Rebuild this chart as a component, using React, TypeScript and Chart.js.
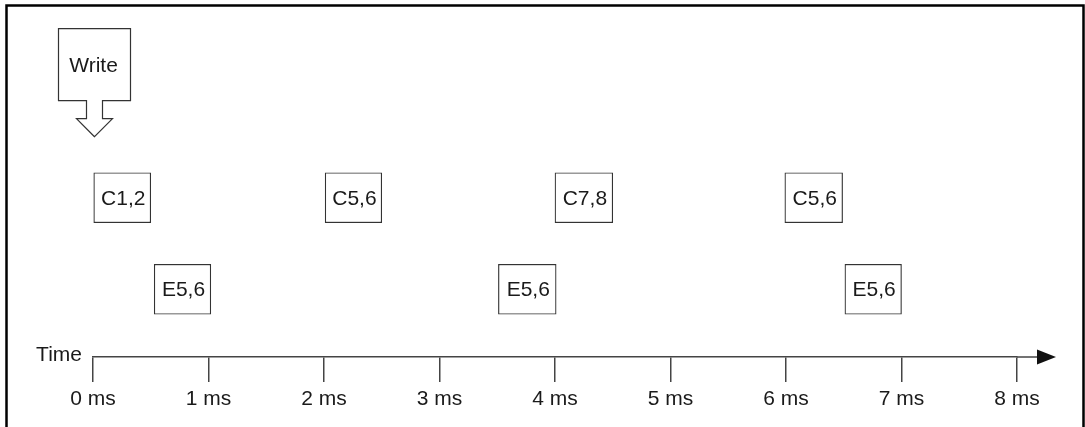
import { useEffect, useRef } from "react";
import { Chart, ChartConfiguration, Plugin } from "chart.js/auto";

// timeline blocks (ms)
const cLabels = ["C1,2", "C5,6", "C7,8", "C5,6"];
const cStart = [0, 2.01, 4, 5.99];
const cEnd = [0.5, 2.5, 4.5, 6.49];

const eLabels = ["E5,6", "E5,6", "E5,6"];
const eStart = [0.53, 3.51, 6.51];
const eEnd = [1.02, 4.01, 7.0];

const tickValues = [0, 1, 2, 3, 4, 5, 6, 7, 8];
const tickLabels = tickValues.map((v) => `${v} ms`);

const writeLabel = "Write";
const writeAt = 0;
const axisTitle = "Time";

const C_ROW = 1.74;
const E_ROW = 0.74;
const FONT = '"Liberation Sans", Arial, sans-serif';
const INK = "#1a1a1a";
const LINE = "#444";

const blockLabels = [...cLabels, ...eLabels];

const decorPlugin: Plugin = {
    id: "decor",
    afterDraw(chart) {
        const ctx = chart.ctx;
        const { left, right, bottom } = chart.chartArea;
        const xs = chart.scales.x;
        const ys = chart.scales.y;
        ctx.save();

        // outer frame (no bottom edge)
        ctx.strokeStyle = "#000";
        ctx.lineWidth = 2.5;
        ctx.beginPath();
        ctx.moveTo(6.5, chart.height + 2);
        ctx.lineTo(6.5, 5.5);
        ctx.lineTo(1083.5, 5.5);
        ctx.lineTo(1083.5, chart.height + 2);
        ctx.stroke();

        // block labels
        ctx.fillStyle = INK;
        ctx.font = `21px ${FONT}`;
        ctx.textAlign = "center";
        ctx.textBaseline = "middle";
        const meta = chart.getDatasetMeta(0);
        meta.data.forEach((el: any, i) => {
            const p = el.getProps(["x", "y", "base"], true);
            ctx.fillText(blockLabels[i], (p.x + p.base) / 2 + 1, p.y + 1);
        });

        // arrow extension past 8 ms
        ctx.strokeStyle = LINE;
        ctx.lineWidth = 1.5;
        ctx.beginPath();
        ctx.moveTo(right, bottom);
        ctx.lineTo(right + 24, bottom);
        ctx.stroke();
        ctx.fillStyle = "#111";
        ctx.beginPath();
        ctx.moveTo(right + 20, bottom - 7.5);
        ctx.lineTo(right + 39, bottom);
        ctx.lineTo(right + 20, bottom + 7.5);
        ctx.closePath();
        ctx.fill();

        // "Time" title
        ctx.fillStyle = INK;
        ctx.textAlign = "right";
        ctx.fillText(axisTitle, left - 11, bottom - 2);

        // Write callout
        const tipX = xs.getPixelForValue(writeAt) + 1.5;
        const tipY = ys.getPixelForValue(C_ROW) - 61;
        ctx.strokeStyle = "#333";
        ctx.lineWidth = 1.2;
        ctx.fillStyle = "#fff";
        ctx.beginPath();
        ctx.moveTo(tipX, tipY);
        ctx.lineTo(tipX - 18, tipY - 18);
        ctx.lineTo(tipX - 8, tipY - 18);
        ctx.lineTo(tipX - 8, tipY - 36);
        ctx.lineTo(tipX - 36, tipY - 36);
        ctx.lineTo(tipX - 36, tipY - 108);
        ctx.lineTo(tipX + 36, tipY - 108);
        ctx.lineTo(tipX + 36, tipY - 36);
        ctx.lineTo(tipX + 8, tipY - 36);
        ctx.lineTo(tipX + 8, tipY - 18);
        ctx.lineTo(tipX + 18, tipY - 18);
        ctx.closePath();
        ctx.fill();
        ctx.stroke();
        ctx.fillStyle = INK;
        ctx.textAlign = "center";
        ctx.fillText(writeLabel, tipX - 1, tipY - 71);

        ctx.restore();
    },
};

export default function App() {
    const chartRef = useRef<HTMLCanvasElement>(null);
    const chartInstance = useRef<Chart | null>(null);

    useEffect(() => {
        document.body.style.margin = "0";
        if (!chartRef.current) return;

        if (chartInstance.current) {
            chartInstance.current.destroy();
        }

        const ctx = chartRef.current.getContext("2d");
        if (!ctx) return;

        const blocks = [
            ...cStart.map((s, i) => ({ x: [s, cEnd[i]], y: C_ROW })),
            ...eStart.map((s, i) => ({ x: [s, eEnd[i]], y: E_ROW })),
        ];

        const config: ChartConfiguration = {
            type: "bar",
            data: {
                datasets: [
                    {
                        label: "blocks",
                        data: blocks as any,
                        backgroundColor: "#fff",
                        borderColor: "#333",
                        borderWidth: 1.2,
                        borderSkipped: false,
                        barThickness: 50,
                    },
                ],
            },
            plugins: [decorPlugin],
            options: {
                indexAxis: "y",
                responsive: false,
                animation: false,
                events: [],
                layout: { padding: { left: 93, right: 68, top: 0, bottom: 0 } },
                plugins: {
                    legend: { display: false },
                    tooltip: { enabled: false },
                },
                scales: {
                    x: {
                        type: "linear",
                        min: 0,
                        max: 8,
                        afterBuildTicks: (axis) => {
                            axis.ticks = tickValues.map((v) => ({ value: v }));
                        },
                        afterFit: (axis) => {
                            axis.height = 70;
                        },
                        ticks: {
                            color: INK,
                            font: { family: FONT, size: 21 },
                            padding: 5,
                            maxRotation: 0,
                            autoSkip: false,
                            callback: (_v, i) => tickLabels[i],
                        },
                        grid: {
                            drawOnChartArea: false,
                            drawTicks: true,
                            tickLength: 25,
                            color: LINE,
                            lineWidth: 1.5,
                        },
                        border: { display: true, color: LINE, width: 1.5 },
                    },
                    y: {
                        type: "linear",
                        display: false,
                        offset: false,
                        grid: { offset: false },
                        min: 0,
                        max: 3.9,
                    },
                },
            },
        };

        chartInstance.current = new Chart(ctx, config);

        return () => {
            if (chartInstance.current) {
                chartInstance.current.destroy();
            }
        };
    }, []);

    return (
        <div style={{ width: 1085, height: 427, background: "#fff" }}>
            <canvas ref={chartRef} width={1085} height={427}></canvas>
        </div>
    );
}
